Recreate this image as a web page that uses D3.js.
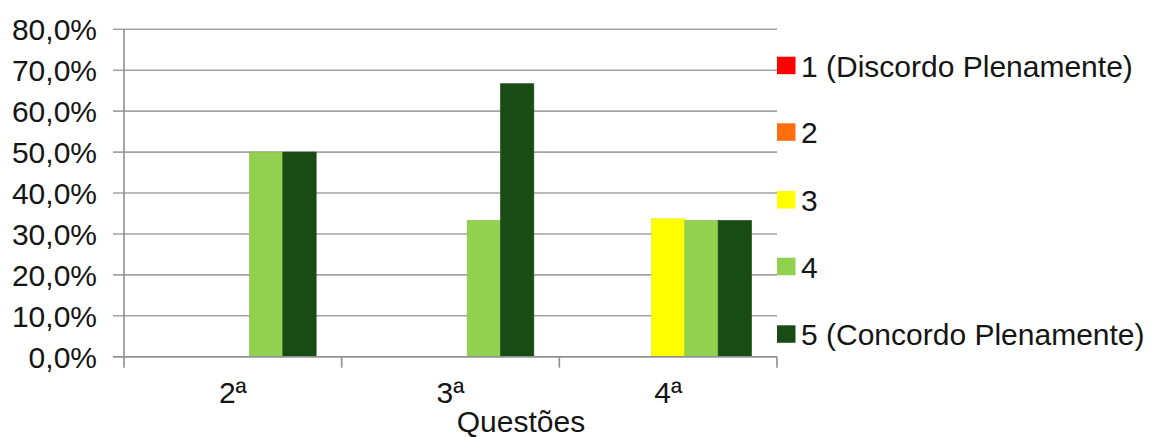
<!DOCTYPE html>
<html>
<head>
<meta charset="utf-8">
<script src="https://cdn.jsdelivr.net/npm/d3@7"></script>
<style>
  html, body { margin: 0; padding: 0; background: #fff; }
  svg { display: block; }
  text { font-family: "Liberation Sans", Arial, sans-serif; fill: #151515; }
</style>
</head>
<body>
<svg id="chart" width="1154" height="437"></svg>
<script>
const categories = ["2ª", "3ª", "4ª"];
const seriesNames = ["1 (Discordo Plenamente)", "2", "3", "4", "5 (Concordo Plenamente)"];
const seriesColors = ["#ff0000", "#ff6d0d", "#ffff00", "#92d050", "#194c14"];
const s1 = [0, 0, 0];
const s2 = [0, 0, 0];
const s3 = [0, 0, 33.7];
const s4 = [50.0, 33.3, 33.3];
const s5 = [50.0, 66.7, 33.3];
const seriesValues = [s1, s2, s3, s4, s5];
const yTickValues = [0, 10, 20, 30, 40, 50, 60, 70, 80];
const yTickLabels = ["0,0%", "10,0%", "20,0%", "30,0%", "40,0%", "50,0%", "60,0%", "70,0%", "80,0%"];
const xTitle = "Questões";

(function () {
const svg = d3.select("#chart");
const pL = 124, pR = 777, pT = 29.3, pB = 356.7;

const x = d3.scaleBand().domain(categories).range([pL, pR]).paddingInner(0).paddingOuter(0);
const barW = (x.bandwidth() - 51) / seriesNames.length;
const xs = d3.scaleBand().domain(d3.range(seriesNames.length)).range([0, x.bandwidth()])
  .paddingInner(0).paddingOuter(25.5 / barW);
const y = d3.scaleLinear().domain([0, 80]).range([pB, pT]);

// gridlines
svg.append("g").selectAll("line").data(yTickValues).join("line")
  .attr("x1", pL - 11).attr("x2", pR)
  .attr("y1", d => y(d)).attr("y2", d => y(d))
  .attr("stroke", "#a3a3a3").attr("stroke-width", 1.6);

// y labels
svg.append("g").selectAll("text").data(yTickValues).join("text")
  .attr("x", 97).attr("y", d => y(d) + 11)
  .attr("text-anchor", "end")
  .attr("font-size", 30)
  .text((d, i) => yTickLabels[i]);

// bars
const bars = [];
seriesValues.forEach((vals, si) => {
  vals.forEach((v, ci) => { if (v > 0) bars.push({ si, ci, v }); });
});
svg.append("g").selectAll("rect").data(bars).join("rect")
  .attr("x", d => x(categories[d.ci]) + xs(d.si))
  .attr("width", xs.bandwidth())
  .attr("y", d => y(d.v))
  .attr("height", d => y(0) - y(d.v))
  .attr("fill", d => seriesColors[d.si])
  .attr("stroke", d => d3.color(seriesColors[d.si]).darker(0.25))
  .attr("stroke-width", 0.6);

// vertical axis
svg.append("line").attr("x1", pL).attr("x2", pL).attr("y1", pT).attr("y2", pB + 11)
  .attr("stroke", "#8f8f8f").attr("stroke-width", 1.6);
// baseline
svg.append("line").attr("x1", pL - 11).attr("x2", pR).attr("y1", pB).attr("y2", pB)
  .attr("stroke", "#8f8f8f").attr("stroke-width", 1.6);
// category boundary ticks
const bounds = categories.map(c => x(c) + x.bandwidth());
svg.append("g").selectAll("line").data(bounds).join("line")
  .attr("x1", d => d).attr("x2", d => d).attr("y1", pB).attr("y2", pB + 11)
  .attr("stroke", "#8f8f8f").attr("stroke-width", 1.6);

// x labels
svg.append("g").selectAll("text").data(categories).join("text")
  .attr("x", d => x(d) + x.bandwidth() / 2)
  .attr("y", 403)
  .attr("text-anchor", "middle")
  .attr("font-size", 30)
  .text(d => d);

svg.append("text").attr("x", 521).attr("y", 432).attr("text-anchor", "middle")
  .attr("font-size", 30).text(xTitle);

// legend
const legY = [65.7, 132.3, 200, 266.7, 334.3];
const leg = svg.append("g").selectAll("g").data(seriesNames).join("g")
  .attr("transform", (d, i) => `translate(777, ${legY[i]})`);
leg.append("rect").attr("x", 0).attr("y", -9).attr("width", 18.5).attr("height", 17.5)
  .attr("fill", (d, i) => seriesColors[i]);
leg.append("text").attr("x", 24).attr("y", 11).attr("font-size", 30).text(d => d);
})();
</script>
</body>
</html>
